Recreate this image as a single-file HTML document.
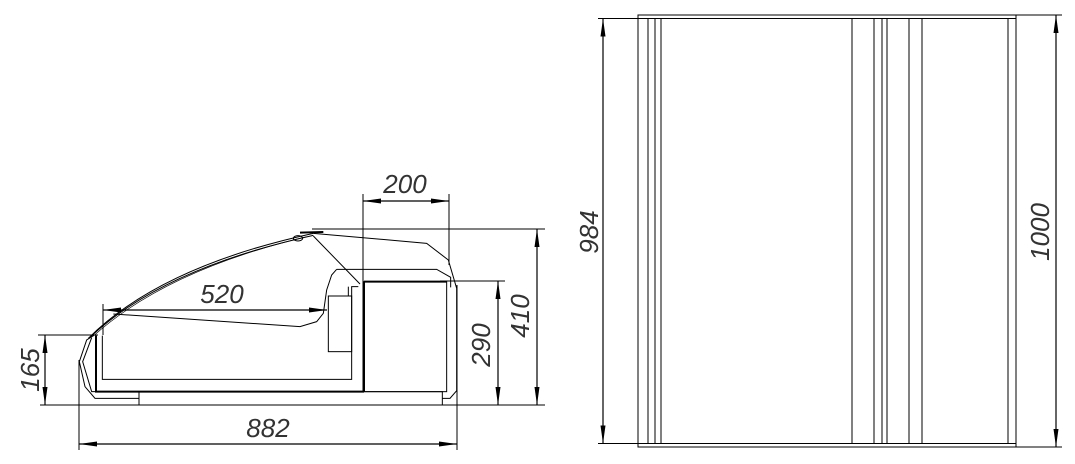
<!DOCTYPE html>
<html><head><style>html,body{margin:0;padding:0;background:#fff}svg{display:block}</style></head>
<body>
<svg width="1075" height="464" viewBox="0 0 1075 464" xmlns="http://www.w3.org/2000/svg">
<defs>
<marker id="a" viewBox="0 0 18 5" refX="18" refY="2.5" markerWidth="18" markerHeight="5" markerUnits="userSpaceOnUse" orient="auto-start-reverse"><path d="M0,0 L18,2.5 L0,5 z" fill="#000"/></marker>
</defs>
<g fill="none" stroke="#000" stroke-width="1">
<line x1="40" y1="405" x2="545" y2="405"/>
<line x1="79" y1="360" x2="79" y2="450"/>
<line x1="457" y1="285" x2="457" y2="450"/>
<line x1="79" y1="444" x2="457" y2="444" marker-start="url(#a)" marker-end="url(#a)" stroke-width="1.2"/>
<line x1="363" y1="194" x2="363" y2="392"/>
<line x1="449" y1="194" x2="449" y2="265"/>
<line x1="363" y1="201" x2="449" y2="201" marker-start="url(#a)" marker-end="url(#a)" stroke-width="1.2"/>
<line x1="312" y1="229" x2="545" y2="229"/>
<line x1="537" y1="229" x2="537" y2="405" marker-start="url(#a)" marker-end="url(#a)" stroke-width="1.2"/>
<line x1="440" y1="281" x2="505" y2="281"/>
<line x1="498" y1="281" x2="498" y2="405" marker-start="url(#a)" marker-end="url(#a)" stroke-width="1.2"/>
<line x1="38" y1="335" x2="98" y2="335"/>
<line x1="45" y1="335" x2="45" y2="405" marker-start="url(#a)" marker-end="url(#a)" stroke-width="1.2"/>
<line x1="103" y1="304" x2="103" y2="335"/>
<line x1="103" y1="310" x2="327" y2="310" marker-start="url(#a)" marker-end="url(#a)" stroke-width="1.2"/>
<g transform="translate(60 170) scale(0.33333)" stroke-width="3">
<polyline points="108,497 108,665 912,665" stroke-width="6"/>
<polyline points="127,497 127,628 875,628 875,350 895,350"/>
<polyline points="865,378 865,350"/>
<rect x="805" y="378" width="70" height="167"/>
<rect x="912" y="335" width="248" height="330"/>
<line x1="912" y1="335" x2="1160" y2="335" stroke-width="6"/>
<line x1="912" y1="335" x2="912" y2="665" stroke-width="6"/>
<rect x="237" y="665" width="910" height="40"/>
<polyline points="100,497 80,510 58,575 75,650 105,685 237,685"/>
<polyline points="95,503 68,575 95,665 108,665"/>
<polyline points="1165,270 1190,355 1190,662 1170,685 1147,685"/>
<path d="M85,505 Q300,290 760,190"/>
<path d="M92,500 Q310,295 760,196"/>
<path d="M100,498 Q320,300 740,200" stroke-width="2"/>
<polyline points="760,190 1100,220 1165,270"/>
<line x1="760" y1="198" x2="900" y2="342"/>
<polyline points="830,298 1130,298 1172,322 1172,352"/>
<polyline points="830,298 815,315 800,360 790,430 770,455 720,470 160,432"/>
<path d="M700,205 a14,8 0 1,0 28,0 a14,8 0 1,0 -28,0"/>
<line x1="720" y1="188" x2="790" y2="186" stroke-width="6"/>
</g>
<rect x="638" y="15" width="378" height="432"/>
<line x1="638" y1="18.5" x2="1016" y2="18.5"/>
<line x1="638" y1="443.5" x2="1016" y2="443.5"/>
<line x1="648" y1="18" x2="648" y2="444"/>
<line x1="655" y1="18" x2="655" y2="444"/>
<line x1="661" y1="18" x2="661" y2="444"/>
<line x1="852" y1="18" x2="852" y2="444"/>
<line x1="874" y1="18" x2="874" y2="444"/>
<line x1="882" y1="18" x2="882" y2="444"/>
<line x1="887" y1="18" x2="887" y2="444"/>
<line x1="909" y1="18" x2="909" y2="444"/>
<line x1="922" y1="18" x2="922" y2="444"/>
<line x1="1008" y1="18" x2="1008" y2="444"/>
<line x1="598" y1="18.5" x2="638" y2="18.5"/>
<line x1="598" y1="443.5" x2="638" y2="443.5"/>
<line x1="603" y1="18.5" x2="603" y2="443.5" marker-start="url(#a)" marker-end="url(#a)" stroke-width="1.2"/>
<line x1="1016" y1="15" x2="1062" y2="15"/>
<line x1="1016" y1="447" x2="1062" y2="447"/>
<line x1="1056" y1="15" x2="1056" y2="447" marker-start="url(#a)" marker-end="url(#a)" stroke-width="1.2"/>
</g>
<g font-family="Liberation Sans, sans-serif" font-style="italic" font-size="26" fill="#333" text-anchor="middle">
<text x="268" y="437">882</text>
<text x="405" y="193">200</text>
<text x="222" y="303">520</text>
<text transform="translate(529 316) rotate(-90)">410</text>
<text transform="translate(490 345) rotate(-90)">290</text>
<text transform="translate(39 370) rotate(-90)">165</text>
<text transform="translate(598 232) rotate(-90)">984</text>
<text transform="translate(1049 232) rotate(-90)">1000</text>
</g>
</svg>
</body></html>
